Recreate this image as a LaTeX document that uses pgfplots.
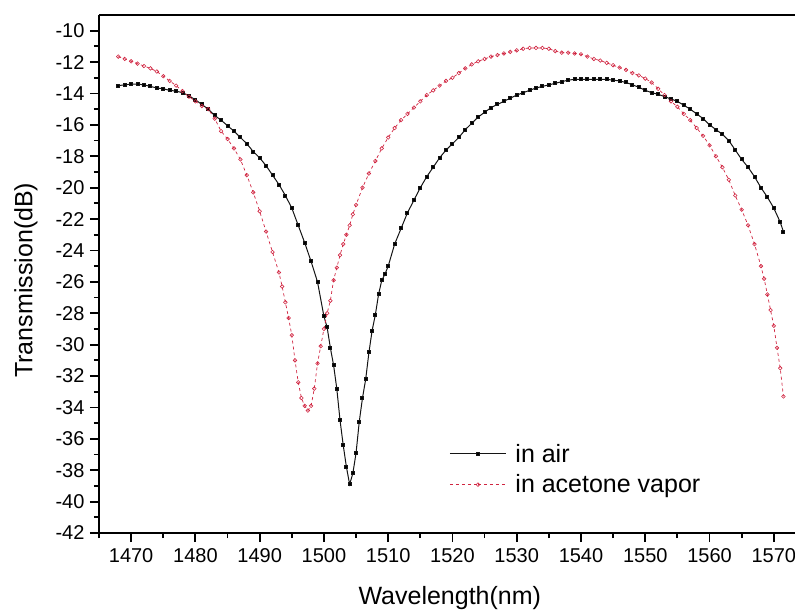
\documentclass[border=0pt]{standalone}
\usepackage{pgfplots}
\pgfplotsset{compat=1.18}
\usepackage{fontspec}
\setmainfont{Liberation Sans}
\definecolor{redc}{RGB}{208,36,64}
\definecolor{blk}{RGB}{20,20,20}
\begin{document}
\begin{tikzpicture}
\path[use as bounding box] (-99pt,-77pt) rectangle (696pt,533pt);
\begin{axis}[
  at={(0,0)}, anchor=south west,
  scale only axis, width=696pt, height=518pt,
  xmin=1465, xmax=1573.3, ymin=-42, ymax=-9,
  axis x line=box, axis y line=left,
  axis line style={-, line width=2pt},
  xtick={1470,1480,...,1570}, ytick={-42,-40,...,-10},
  minor xtick={1465,1475,...,1575}, minor ytick={-41,-39,...,-11},
  xtick pos=bottom, ytick pos=left,
  tick align=outside,
  major tick length=9pt, minor tick length=5pt,
  every tick/.style={line width=1.8pt, black},
  /pgf/number format/assume math mode=true,
  /pgf/number format/1000 sep={},
  xticklabel style={font=\fontsize{20}{24}\selectfont, yshift=-3pt},
  yticklabel style={font=\fontsize{20}{24}\selectfont, xshift=-2pt},
  xlabel={Wavelength(nm)}, ylabel={Transmission(dB)},
  every axis x label/.style={at={(axis description cs:0.504,0)}, yshift=-65pt, anchor=center, font=\fontsize{25}{30}\selectfont},
  every axis y label/.style={at={(axis description cs:0,0.488)}, xshift=-73pt, rotate=90, anchor=center, font=\fontsize{25}{30}\selectfont},
  legend style={at={(axis cs:1519.5,-36.2)}, anchor=north west, draw=none, fill=none,
    font=\fontsize{25}{30}\selectfont, row sep=7pt, inner sep=0pt,
    /tikz/every odd column/.append style={column sep=7pt}},
  legend cell align=left,
  legend image code/.code={
    \draw[#1] (0pt,0pt) -- (28pt,0pt);
    \draw[#1] (28pt,0pt) -- (56pt,0pt);
    \path[#1, solid] plot coordinates {(28pt,0pt)};
  },
  clip=false,
]
\addplot[blk, line width=1pt, mark=square*, mark size=1.5pt, mark options={solid, fill=black}] coordinates {
(1468,-13.5)(1469,-13.45)(1470,-13.4)(1471,-13.4)(1472,-13.45)(1473,-13.55)(1474,-13.65)(1475,-13.7)
(1476,-13.8)(1477,-13.85)(1478,-13.95)(1479,-14.15)(1480,-14.4)(1481,-14.7)(1482,-15.0)(1483,-15.4)
(1484,-15.7)(1485,-16.05)(1486,-16.4)(1487,-16.8)(1488,-17.2)(1489,-17.7)(1490,-18.1)(1491,-18.6)
(1492,-19.2)(1493,-19.8)(1494,-20.5)(1495,-21.3)(1496,-22.4)(1497,-23.5)(1498,-24.7)(1499,-26.0)
(1500,-28.2)(1500.5,-28.9)(1501,-30.2)(1501.5,-31.3)(1502,-32.8)(1502.5,-34.8)(1503,-36.4)(1503.5,-37.8)
(1504,-38.9)(1504.5,-38.2)(1505,-36.9)(1505.5,-34.9)(1506,-33.4)(1506.5,-32.2)(1507,-30.5)(1507.5,-29.1)
(1508,-28.1)(1508.5,-26.8)(1509,-25.9)(1509.5,-25.5)(1510,-25.0)(1511,-23.6)(1512,-22.6)(1513,-21.6)
(1514,-20.8)(1515,-20.0)(1516,-19.3)(1517,-18.7)(1518,-18.1)(1519,-17.6)(1520,-17.2)(1521,-16.8)
(1522,-16.3)(1523,-15.9)(1524,-15.5)(1525,-15.2)(1526,-14.9)(1527,-14.7)(1528,-14.5)(1529,-14.3)
(1530,-14.1)(1531,-13.95)(1532,-13.8)(1533,-13.65)(1534,-13.55)(1535,-13.45)(1536,-13.35)(1537,-13.25)
(1538,-13.15)(1539,-13.1)(1540,-13.1)(1541,-13.1)(1542,-13.1)(1543,-13.1)(1544,-13.1)(1545,-13.15)
(1546,-13.2)(1547,-13.3)(1548,-13.45)(1549,-13.6)(1550,-13.8)(1551,-13.95)(1552,-14.05)(1553,-14.2)
(1554,-14.35)(1555,-14.5)(1556,-14.75)(1557,-15.0)(1558,-15.3)(1559,-15.6)(1560,-16.0)(1561,-16.3)
(1562,-16.6)(1563,-17.0)(1564,-17.6)(1565,-18.2)(1566,-18.7)(1567,-19.3)(1568,-20.0)(1569,-20.6)
(1570,-21.3)(1571,-22.2)(1571.5,-22.8)
};
\addlegendentry{in air}
\addplot[redc, line width=0.7pt, dashed, mark=o, mark size=1.8pt, mark options={solid, line width=0.6pt}] coordinates {
(1468,-11.65)(1469,-11.8)(1470,-11.95)(1471,-12.1)(1472,-12.25)(1473,-12.4)(1474,-12.6)(1475,-12.9)
(1476,-13.2)(1477,-13.5)(1478,-13.85)(1479,-14.2)(1480,-14.5)(1481,-14.8)(1482,-15.0)(1483,-15.6)
(1484,-16.4)(1485,-16.9)(1486,-17.5)(1487,-18.2)(1488,-19.2)(1489,-20.3)(1490,-21.5)(1491,-22.8)
(1492,-24.1)(1493,-25.4)(1493.5,-26.3)(1494,-27.3)(1494.5,-28.3)(1495,-29.4)(1495.5,-31.0)(1496,-32.4)
(1496.5,-33.4)(1497,-33.9)(1497.5,-34.2)(1498,-33.9)(1498.5,-32.8)(1499,-31.2)(1499.5,-30.1)(1500,-29.0)
(1500.5,-28.0)(1501,-27.2)(1501.5,-25.9)(1502,-25.1)(1502.5,-24.3)(1503,-23.6)(1503.5,-23.0)(1504,-22.4)
(1504.5,-21.7)(1505,-21.1)(1506,-20.0)(1507,-19.1)(1508,-18.3)(1509,-17.5)(1510,-16.8)(1511,-16.2)
(1512,-15.7)(1513,-15.3)(1514,-14.9)(1515,-14.5)(1516,-14.1)(1517,-13.8)(1518,-13.5)(1519,-13.2)
(1520,-13.0)(1521,-12.7)(1522,-12.4)(1523,-12.15)(1524,-11.95)(1525,-11.8)(1526,-11.65)(1527,-11.55)
(1528,-11.45)(1529,-11.35)(1530,-11.25)(1531,-11.15)(1532,-11.1)(1533,-11.1)(1534,-11.1)(1535,-11.15)
(1536,-11.3)(1537,-11.4)(1538,-11.4)(1539,-11.45)(1540,-11.5)(1541,-11.65)(1542,-11.8)(1543,-11.9)
(1544,-12.05)(1545,-12.2)(1546,-12.35)(1547,-12.5)(1548,-12.7)(1549,-12.85)(1550,-13.05)(1551,-13.3)
(1552,-13.7)(1553,-14.1)(1554,-14.5)(1555,-14.85)(1556,-15.3)(1557,-15.7)(1558,-16.2)(1559,-16.7)
(1560,-17.3)(1561,-18.0)(1562,-18.7)(1563,-19.5)(1564,-20.5)(1565,-21.4)(1566,-22.4)(1567,-23.6)
(1568,-25.0)(1568.5,-25.8)(1569,-26.8)(1569.5,-27.8)(1570,-28.8)(1570.5,-30.2)(1571,-31.5)(1571.5,-33.3)
};
\addlegendentry{in acetone vapor}
\end{axis}
\end{tikzpicture}
\end{document}
